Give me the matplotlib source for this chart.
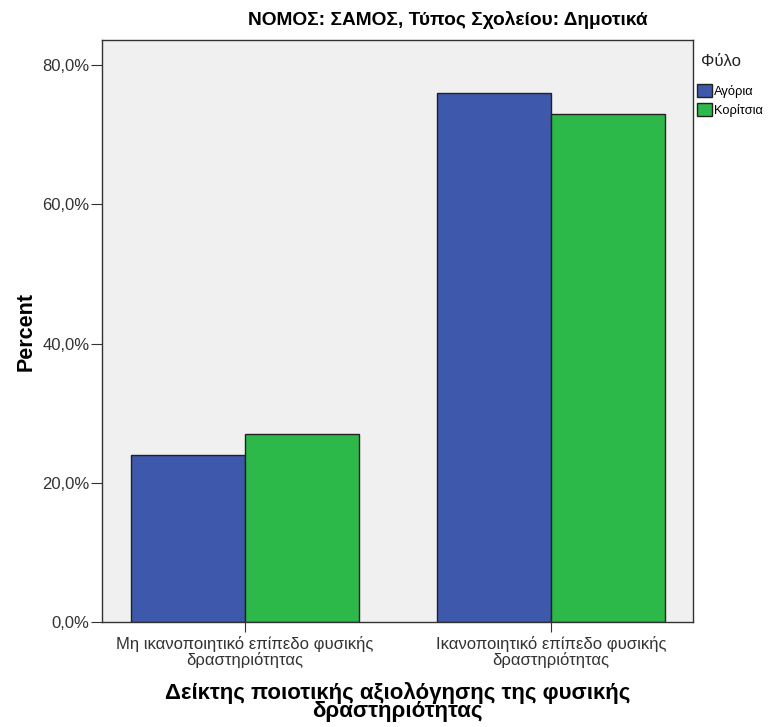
import numpy as np
import matplotlib
matplotlib.use('Agg')
import matplotlib.pyplot as plt
from matplotlib.ticker import FuncFormatter

plt.rcParams['font.family'] = ['Liberation Sans', 'DejaVu Sans']

# data
categories = ['Μη ικανοποιητικό επίπεδο φυσικής\nδραστηριότητας',
              'Ικανοποιητικό επίπεδο φυσικής\nδραστηριότητας']
boys = [24.0, 76.0]
girls = [27.0, 73.0]
series_names = ['Αγόρια', 'Κορίτσια']
colors = ['#3e58ac', '#2db84a']

fig = plt.figure(figsize=(7.76, 7.27), dpi=100)
ax = fig.add_axes([0.1314, 0.1444, 0.7616, 0.8006])
ax.set_facecolor('#f0f0f0')

x = np.arange(len(categories))
w = 0.3725
ax.bar(x - w / 2, boys, w, color=colors[0], edgecolor='#222222', linewidth=1, label=series_names[0])
ax.bar(x + w / 2, girls, w, color=colors[1], edgecolor='#222222', linewidth=1, label=series_names[1])

ax.set_xlim(-0.467, 1.464)
ax.set_ylim(0, 83.6)
ax.set_yticks([0, 20, 40, 60, 80])
ax.yaxis.set_major_formatter(FuncFormatter(lambda v, p: '{:.1f}%'.format(v).replace('.', ',')))
ax.set_xticks(x)
ax.set_xticklabels(categories, fontsize=12, color='#333333', linespacing=1.0)
ax.tick_params(axis='y', labelsize=12, labelcolor='#333333', length=8, color='#333333', pad=1)
ax.tick_params(axis='x', length=7, color='#333333', pad=3)
for s in ax.spines.values():
    s.set_color('#333333')
    s.set_linewidth(1)

ax.set_ylabel('Percent', fontsize=15.5, fontweight='bold', labelpad=4)
ax.set_xlabel('Δείκτης ποιοτικής αξιολόγησης της φυσικής\nδραστηριότητας', fontsize=16,
              fontweight='bold', labelpad=10, linespacing=0.85)

fig.text(448 / 776, 1 - 20 / 727, 'ΝΟΜΟΣ: ΣΑΜΟΣ, Τύπος Σχολείου: Δημοτικά', ha='center', va='center',
         fontsize=13.8, fontweight='bold')

fig.text(721 / 776, 1 - 61 / 727, 'Φύλο', ha='center', va='center', fontsize=12, color='#222222')
leg = ax.legend(loc='upper left', bbox_to_anchor=(1.003, 0.928), frameon=False,
                fontsize=9.3, handlelength=1.1, handleheight=1.1,
                handletextpad=0.2, labelspacing=0.4, borderaxespad=0, borderpad=0.2)

plt.savefig('out.png', dpi=100)
